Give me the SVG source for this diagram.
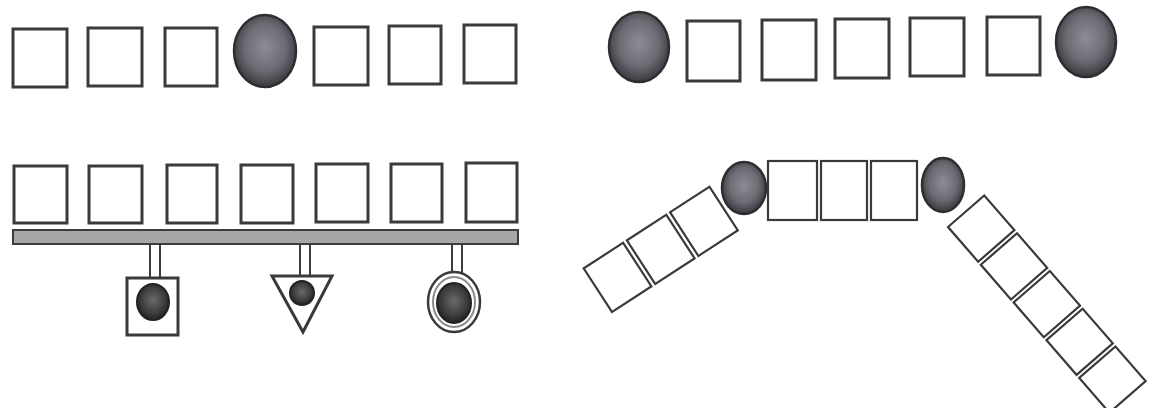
<svg xmlns="http://www.w3.org/2000/svg" width="1153" height="408" viewBox="0 0 1153 408">
<defs>
<radialGradient id="ball" cx="50%" cy="45%" r="55%">
<stop offset="0" stop-color="#8e8c94"/>
<stop offset="0.6" stop-color="#6c6a72"/>
<stop offset="1" stop-color="#3a393e"/>
</radialGradient>
<radialGradient id="dark" cx="50%" cy="45%" r="55%">
<stop offset="0" stop-color="#6a6a6a"/>
<stop offset="0.7" stop-color="#3a3a3a"/>
<stop offset="1" stop-color="#222"/>
</radialGradient>
</defs>
<style>
.sq{fill:#fff;stroke:#3a3a3a;stroke-width:3}
.lk{fill:#fff;stroke:#3a3a3a;stroke-width:2.2}
.ball{fill:url(#ball);stroke:#2e2e32;stroke-width:2.5}
.dk{fill:url(#dark);stroke:#222;stroke-width:2}
.bar{fill:#a6a6a6;stroke:#3c3c3c;stroke-width:2}
.stem{fill:#fff;stroke:#3c3c3c;stroke-width:2}
</style>
<rect width="1153" height="408" fill="#fff"/>

<!-- Top-left row -->
<g id="row1-left">
<rect class="sq" x="13" y="29" width="54" height="58"/>
<rect class="sq" x="88" y="28" width="54" height="58"/>
<rect class="sq" x="165" y="28" width="52" height="58"/>
<ellipse class="ball" cx="265" cy="51" rx="31" ry="36"/>
<rect class="sq" x="314" y="27" width="54" height="58"/>
<rect class="sq" x="389" y="26" width="52" height="58"/>
<rect class="sq" x="464" y="25" width="52" height="58"/>
</g>

<!-- Top-right row -->
<g id="row1-right">
<ellipse class="ball" cx="639" cy="47" rx="30" ry="35"/>
<rect class="sq" x="687" y="21" width="53" height="60"/>
<rect class="sq" x="762" y="20" width="54" height="60"/>
<rect class="sq" x="835" y="19" width="54" height="59"/>
<rect class="sq" x="910" y="18" width="54" height="58"/>
<rect class="sq" x="987" y="17" width="53" height="58"/>
<ellipse class="ball" cx="1086" cy="42" rx="30" ry="35"/>
</g>

<!-- Bottom-left row with bar -->
<g id="row2-left">
<rect class="sq" x="14" y="166" width="53" height="57"/>
<rect class="sq" x="89" y="166" width="53" height="57"/>
<rect class="sq" x="167" y="165" width="50" height="58"/>
<rect class="sq" x="241" y="165" width="52" height="58"/>
<rect class="sq" x="316" y="164" width="52" height="58"/>
<rect class="sq" x="391" y="164" width="51" height="58"/>
<rect class="sq" x="466" y="163" width="51" height="59"/>
</g>

<g id="connectors">
<rect class="bar" x="13" y="230" width="505" height="14"/>
<rect class="stem" x="150" y="244" width="10" height="34"/>
<rect class="stem" x="300" y="244" width="10" height="32"/>
<rect class="stem" x="452" y="244" width="10" height="30"/>
</g>

<g id="square-node">
<rect class="sq" x="127" y="278" width="51" height="57"/>
<ellipse class="dk" cx="153" cy="302" rx="16" ry="18"/>
</g>
<g id="triangle-node">
<polygon class="sq" points="272,276 332,276 303,332"/>
<circle class="dk" cx="302" cy="293" r="12"/>
</g>
<g id="oval-node">
<ellipse cx="454" cy="302" rx="26" ry="30" fill="#fff" stroke="#3a3a3a" stroke-width="2.5"/>
<ellipse cx="454" cy="302" rx="21" ry="25" fill="#fff" stroke="#8a8a8a" stroke-width="2"/>
<ellipse class="dk" cx="454" cy="303" rx="17" ry="20"/>
</g>

<!-- Bottom-right bent chain -->
<g id="chain-left" transform="translate(612,312) rotate(-33)">
<rect class="lk" x="0" y="-52" width="47" height="52"/>
<rect class="lk" x="51.5" y="-52" width="47" height="52"/>
<rect class="lk" x="103" y="-52" width="47" height="52"/>
</g>
<g id="ball-a"><ellipse class="ball" cx="744" cy="188" rx="22" ry="26"/></g>
<g id="chain-middle">
<rect class="lk" x="768" y="161" width="49" height="59"/>
<rect class="lk" x="821" y="161" width="46" height="59"/>
<rect class="lk" x="871" y="161" width="46" height="59"/>
</g>
<g id="ball-b"><ellipse class="ball" cx="943" cy="185" rx="21" ry="27"/></g>
<g id="chain-right" transform="translate(948,227) rotate(49)">
<rect class="lk" x="0" y="-48" width="46" height="48"/>
<rect class="lk" x="50" y="-48" width="46" height="48"/>
<rect class="lk" x="100" y="-48" width="46" height="48"/>
<rect class="lk" x="150" y="-48" width="46" height="48"/>
<rect class="lk" x="200" y="-48" width="46" height="48"/>
</g>
</svg>
